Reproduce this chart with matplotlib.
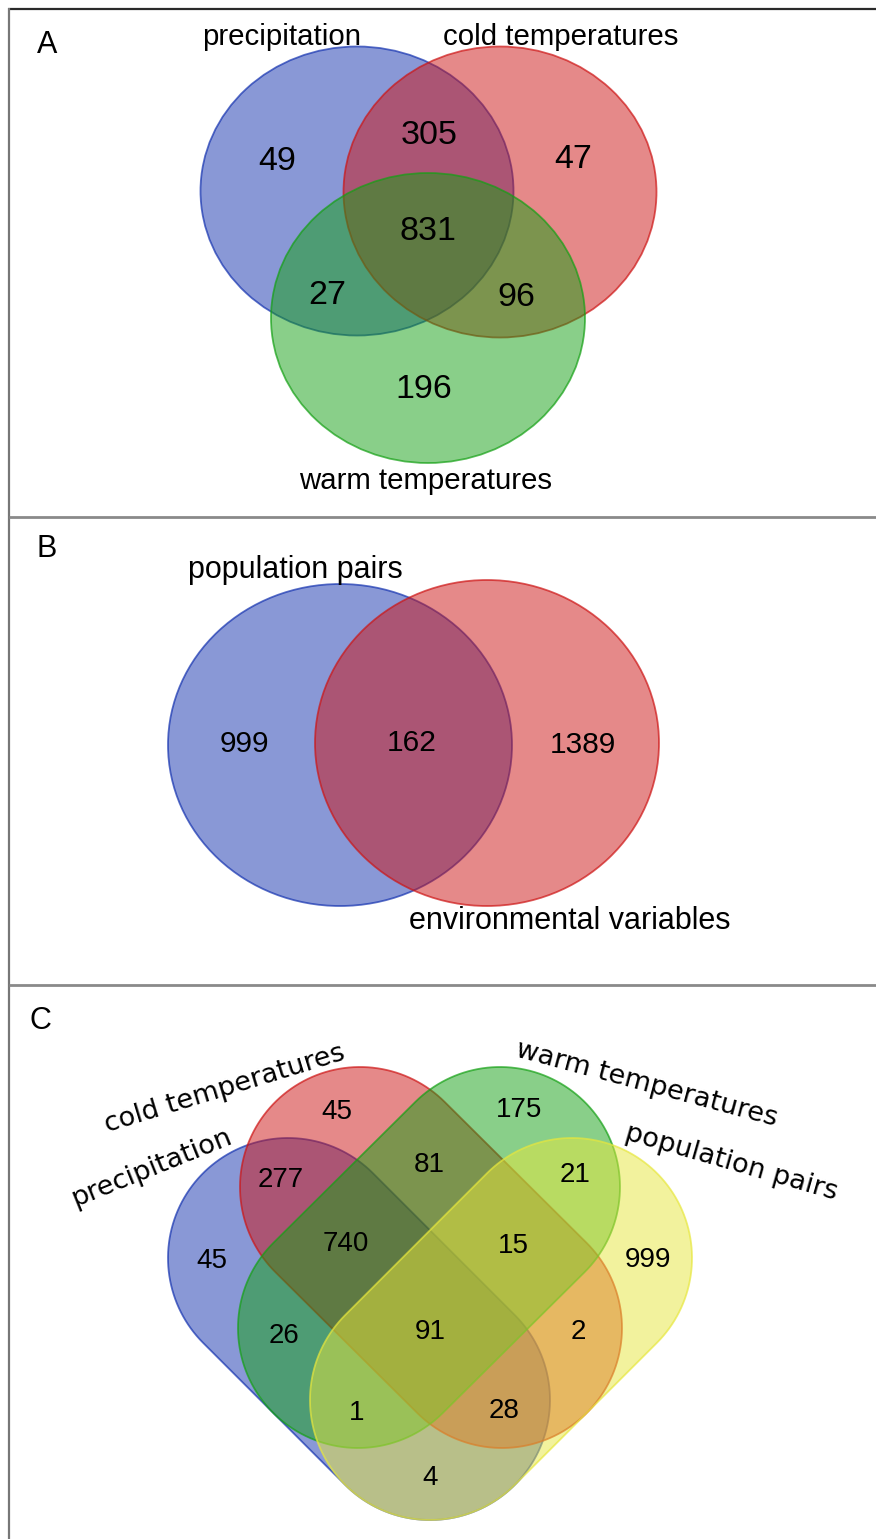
import numpy as np
import matplotlib
matplotlib.use("Agg")
import matplotlib.pyplot as plt
from matplotlib.patches import Ellipse, Polygon

# ---------------- data ----------------
sets_a = ["precipitation", "cold temperatures", "warm temperatures"]
regions_a = ["P", "PC", "C", "PCW", "PW", "CW", "W"]
counts_a = [49, 305, 47, 831, 27, 96, 196]

sets_b = ["population pairs", "environmental variables"]
regions_b = ["Pop", "Pop&Env", "Env"]
counts_b = [999, 162, 1389]

sets_c = ["precipitation", "cold temperatures", "warm temperatures", "population pairs"]
regions_c = ["C", "W", "PC", "CW", "WPop", "P", "PCW", "CWPop", "Pop",
             "PW", "PCWPop", "CPop", "PWPop", "PCPop", "PPop"]
counts_c = [45, 175, 277, 81, 21, 45, 740, 15, 999,
            26, 91, 2, 1, 28, 4]

panel_letters = ["A", "B", "C"]

# ---------------- layout / style ----------------
W, H = 876, 1539
fig = plt.figure(figsize=(W / 100, H / 100), dpi=100)
ax = fig.add_axes([0, 0, 1, 1])
ax.set_xlim(0, W)
ax.set_ylim(H, 0)
ax.axis("off")

col = {
    "blue": (20 / 255, 50 / 255, 175 / 255),
    "red": (205 / 255, 20 / 255, 20 / 255),
    "green": (20 / 255, 160 / 255, 20 / 255),
    "yellow": (231 / 255, 231 / 255, 61 / 255),
}
ALPHA = 0.5
NUMFONT = "Liberation Sans"
LABFONT = "Liberation Sans"
ROTFONT = "DejaVu Sans"
DY = 3  # vertical optical correction for centred text


def face(c):
    return (*c, ALPHA)


def edge(c):
    return (*c, 0.7)


# frame lines
ax.plot([8, W], [9, 9], color="#2a2a2a", lw=1.6, solid_capstyle="butt")
ax.plot([9, 9], [8, H], color="#777777", lw=1.6, solid_capstyle="butt")
for y in (517, 985):
    ax.plot([9, W], [y, y], color="#8a8a8a", lw=2.0, solid_capstyle="butt")

letter_pos = [(47, 42), (47, 546), (40, 1018)]
for L, (x, y) in zip(panel_letters, letter_pos):
    ax.text(x, y + DY, L, fontsize=22, family=LABFONT, ha="center", va="center")

# ---------------- panel A ----------------
ell_a = [((357, 191), 313, 289, "blue"),
         ((500, 192), 313, 291, "red"),
         ((428, 318), 314, 290, "green")]
for (c, w, h, cn) in ell_a:
    ax.add_patch(Ellipse(c, w, h, facecolor=face(col[cn]), edgecolor=edge(col[cn]), lw=1.3))

lab_pos_a = [(282, 34), (561, 34), (426, 478)]
for s, (x, y) in zip(sets_a, lab_pos_a):
    ax.text(x, y + DY, s, fontsize=21.2, family=LABFONT, ha="center", va="center")

num_pos_a = {"P": (277, 158), "PC": (429, 132), "C": (573, 157), "PCW": (428, 228),
             "PW": (327, 293), "CW": (516, 295), "W": (424, 387)}
for r, n in zip(regions_a, counts_a):
    x, y = num_pos_a[r]
    ax.text(x, y + DY, str(n), fontsize=24.5, family=NUMFONT, ha="center", va="center")

# ---------------- panel B ----------------
ell_b = [((340, 745), 344, 322, "blue"),
         ((487, 743), 344, 326, "red")]
for (c, w, h, cn) in ell_b:
    ax.add_patch(Ellipse(c, w, h, facecolor=face(col[cn]), edgecolor=edge(col[cn]), lw=1.3))

lab_pos_b = [(295, 567), (570, 918)]
for s, (x, y) in zip(sets_b, lab_pos_b):
    ax.text(x, y + DY, s, fontsize=22, family=LABFONT, ha="center", va="center")

num_pos_b = {"Pop": (244, 741), "Pop&Env": (412, 740), "Env": (583, 742)}
for r, n in zip(regions_b, counts_b):
    x, y = num_pos_b[r]
    ax.text(x, y + DY, str(n), fontsize=21.5, family=NUMFONT, ha="center", va="center")


# ---------------- panel C ----------------
def capsule(c1, c2, r, n=80):
    c1 = np.asarray(c1, float)
    c2 = np.asarray(c2, float)
    d = c2 - c1
    phi = np.arctan2(d[1], d[0])
    t2 = np.linspace(phi - np.pi / 2, phi + np.pi / 2, n)
    t1 = np.linspace(phi + np.pi / 2, phi + 3 * np.pi / 2, n)
    p2 = np.column_stack([c2[0] + r * np.cos(t2), c2[1] + r * np.sin(t2)])
    p1 = np.column_stack([c1[0] + r * np.cos(t1), c1[1] + r * np.sin(t1)])
    return np.vstack([p2, p1])


R = 120
caps = [((288, 1258), (430, 1400), "blue"),
        ((360, 1187), (502, 1328), "red"),
        ((500, 1187), (358, 1328), "green"),
        ((572, 1258), (430, 1400), "yellow")]
for (a, b, cn) in caps:
    ax.add_patch(Polygon(capsule(a, b, R), closed=True, facecolor=face(col[cn]),
                         edgecolor=edge(col[cn]), lw=1.3))

lab_c = [((152, 1168), 22), ((225, 1089), 17), ((647, 1084), -15), ((731, 1163), -16)]
for s, ((x, y), rot) in zip(sets_c, lab_c):
    ax.text(x, y, s, fontsize=19.5, family=ROTFONT, ha="center", va="center",
            rotation=rot, rotation_mode="anchor")

num_pos_c = {"C": (337, 1110), "W": (519, 1108), "PC": (281, 1178), "CW": (429, 1163),
             "WPop": (575, 1173), "P": (212, 1259), "PCW": (346, 1242), "CWPop": (513, 1244),
             "Pop": (648, 1258), "PW": (284, 1334), "PCWPop": (430, 1330), "CPop": (578, 1330),
             "PWPop": (357, 1411), "PCPop": (504, 1409), "PPop": (430, 1476)}
for r, n in zip(regions_c, counts_c):
    x, y = num_pos_c[r]
    ax.text(x, y + 2, str(n), fontsize=20, family=NUMFONT, ha="center", va="center")

fig.savefig("out.png", dpi=100)
